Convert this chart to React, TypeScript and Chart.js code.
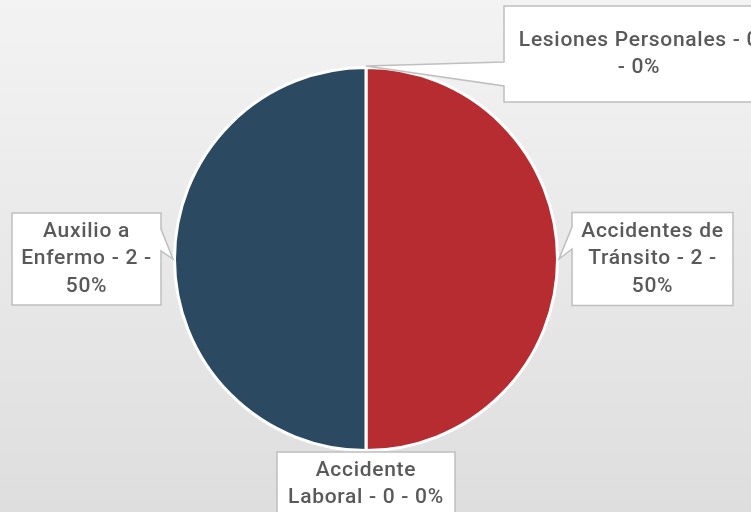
import React, { useEffect, useRef } from "react";
import { Chart, registerables } from "chart.js";

Chart.register(...registerables);

const categories = [
  "Lesiones Personales",
  "Accidentes de Tránsito",
  "Accidente Laboral",
  "Auxilio a Enfermo",
];
const values = [0, 2, 0, 2];
const sliceColors = ["#4f81bd", "#b72c31", "#7f7f7f", "#2b4a62"];

// Callout placement relative to each slice's outer anchor point
type Place = {
  side: "left" | "right" | "top";
  dx: number;
  dy: number;
  w: number;
  h: number;
  wrap: number;
  p1: number;
  p2: number;
};
const calloutPlaces: Place[] = [
  { side: "left", dx: 138, dy: -12, w: 270, h: 96, wrap: 247, p1: -4, p2: 20 },
  { side: "left", dx: 13, dy: 0, w: 161, h: 93, wrap: 155, p1: -32, p2: -10 },
  { side: "top", dx: 0, dy: 0, w: 178, h: 64, wrap: 170, p1: 0, p2: 0 },
  { side: "right", dx: -12, dy: 0, w: 149, h: 92, wrap: 145, p1: -30, p2: -8 },
];

const FONT = "500 21px Roboto, 'Liberation Sans', sans-serif";
const LETTER_SPACING = "0.7px";
const LINE_H = 27.5;

function wrapText(ctx: CanvasRenderingContext2D, text: string, maxW: number) {
  const words = text.split(" ");
  const lines: string[] = [];
  let cur = "";
  for (const w of words) {
    const test = cur ? cur + " " + w : w;
    if (cur && ctx.measureText(test).width > maxW) {
      lines.push(cur);
      cur = w;
    } else {
      cur = test;
    }
  }
  if (cur) lines.push(cur);
  return lines;
}

const backgroundPlugin = {
  id: "bgGradient",
  beforeDraw(chart: any) {
    const { ctx, width, height } = chart;
    const g = ctx.createLinearGradient(0, 0, 0, height);
    g.addColorStop(0, "#f3f3f3");
    g.addColorStop(1, "#dedede");
    ctx.save();
    ctx.fillStyle = g;
    ctx.fillRect(0, 0, width, height);
    ctx.restore();
  },
};

const calloutPlugin = {
  id: "callouts",
  afterDatasetsDraw(chart: any) {
    const ctx: CanvasRenderingContext2D = chart.ctx;
    const meta = chart.getDatasetMeta(0);
    const data: number[] = chart.data.datasets[0].data;
    const total = data.reduce((a, b) => a + b, 0);
    ctx.save();
    ctx.font = FONT;
    (ctx as any).letterSpacing = LETTER_SPACING;
    meta.data.forEach((arc: any, i: number) => {
      const { x, y, startAngle, endAngle, outerRadius } = arc.getProps(
        ["x", "y", "startAngle", "endAngle", "outerRadius"],
        true
      );
      const mid = (startAngle + endAngle) / 2;
      const r = outerRadius + 1.5;
      const ax = x + Math.cos(mid) * r;
      const ay = y + Math.sin(mid) * r;
      const pl = calloutPlaces[i];
      const pct = total ? Math.round((data[i] / total) * 100) : 0;
      const text = `${chart.data.labels[i]} - ${data[i]} - ${pct}%`;
      const lines = wrapText(ctx, text, pl.wrap);

      let left: number, top: number;
      if (pl.side === "left") {
        left = ax + pl.dx;
        top = ay + pl.dy - pl.h / 2;
      } else if (pl.side === "right") {
        left = ax + pl.dx - pl.w;
        top = ay + pl.dy - pl.h / 2;
      } else {
        left = ax + pl.dx - pl.w / 2;
        top = ay + pl.dy;
      }
      const right = left + pl.w;
      const bottom = top + pl.h;

      ctx.beginPath();
      ctx.moveTo(left, top);
      ctx.lineTo(right, top);
      if (pl.side === "right") {
        ctx.lineTo(right, ay + pl.p1);
        ctx.lineTo(ax, ay);
        ctx.lineTo(right, ay + pl.p2);
      }
      ctx.lineTo(right, bottom);
      ctx.lineTo(left, bottom);
      if (pl.side === "left") {
        ctx.lineTo(left, ay + pl.p2);
        ctx.lineTo(ax, ay);
        ctx.lineTo(left, ay + pl.p1);
      }
      ctx.closePath();
      ctx.fillStyle = "#ffffff";
      ctx.fill();
      ctx.strokeStyle = "#bfbfbf";
      ctx.lineWidth = 1.5;
      ctx.stroke();

      ctx.fillStyle = "#595959";
      ctx.textAlign = "center";
      ctx.textBaseline = "middle";
      const cxT = (left + right) / 2;
      const cyT = (top + bottom) / 2;
      const startY = cyT - ((lines.length - 1) * LINE_H) / 2;
      lines.forEach((ln, k) => {
        ctx.fillText(ln, cxT, startY + k * LINE_H);
      });
    });
    ctx.restore();
  },
};

export default function App() {
  const ref = useRef<HTMLCanvasElement | null>(null);
  useEffect(() => {
    document.body.style.margin = "0";
    if (!ref.current) return;
    const chart = new Chart(ref.current, {
      type: "pie",
      data: {
        labels: categories,
        datasets: [
          {
            data: values,
            backgroundColor: sliceColors,
            borderColor: "#ffffff",
            borderWidth: 3,
          },
        ],
      },
      options: {
        animation: false,
        responsive: true,
        maintainAspectRatio: false,
        layout: { padding: { top: 66, bottom: 60, left: 173, right: 192 } },
        plugins: {
          legend: { display: false },
          tooltip: { enabled: false },
        },
      },
      plugins: [backgroundPlugin, calloutPlugin],
    });
    return () => chart.destroy();
  }, []);
  return (
    <div style={{ width: 751, height: 512, position: "relative" }}>
      <canvas ref={ref} />
    </div>
  );
}
